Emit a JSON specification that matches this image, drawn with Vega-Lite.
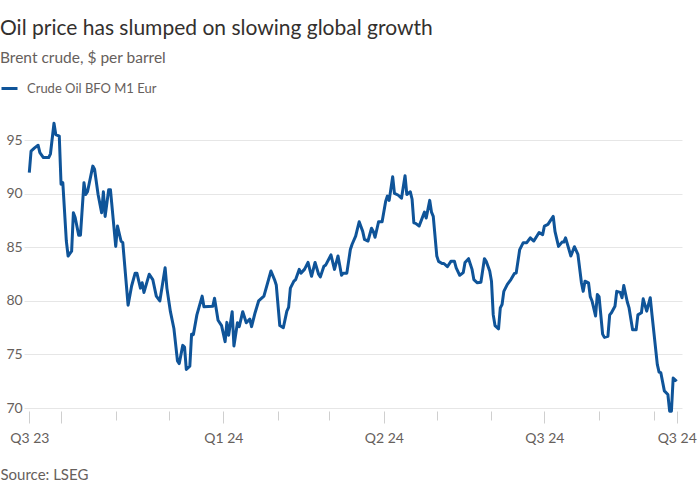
{
  "$schema": "https://vega.github.io/schema/vega-lite/v6.json",
  "autosize": "none",
  "width": 658,
  "height": 289,
  "padding": {"left": 24, "top": 119, "right": 18, "bottom": 92},
  "background": "white",
  "title": {
    "text": "Oil price has slumped on slowing global growth",
    "subtitle": "Brent crude, $ per barrel",
    "anchor": "start",
    "frame": "group",
    "dx": -24,
    "offset": 13,
    "font": "Lato",
    "fontSize": 21,
    "fontWeight": "normal",
    "color": "#33302e",
    "subtitleFont": "Lato",
    "subtitleFontSize": 15.5,
    "subtitleColor": "#66605c",
    "subtitlePadding": 12
  },
  "config": {
    "view": {"stroke": null},
    "font": "Lato"
  },
  "data": {
    "values": [
      {"date": "2023-09-13", "price": 92.0},
      {"date": "2023-09-14", "price": 94.0},
      {"date": "2023-09-16", "price": 94.3},
      {"date": "2023-09-18", "price": 94.55},
      {"date": "2023-09-19", "price": 93.85},
      {"date": "2023-09-21", "price": 93.4},
      {"date": "2023-09-24", "price": 93.4},
      {"date": "2023-09-25", "price": 93.75},
      {"date": "2023-09-27", "price": 96.6},
      {"date": "2023-09-28", "price": 95.55},
      {"date": "2023-09-30", "price": 95.4},
      {"date": "2023-10-01", "price": 90.9},
      {"date": "2023-10-02", "price": 91.05},
      {"date": "2023-10-04", "price": 85.6},
      {"date": "2023-10-05", "price": 84.2},
      {"date": "2023-10-07", "price": 84.65},
      {"date": "2023-10-08", "price": 88.25},
      {"date": "2023-10-09", "price": 87.8},
      {"date": "2023-10-11", "price": 86.15},
      {"date": "2023-10-12", "price": 86.15},
      {"date": "2023-10-14", "price": 91.05},
      {"date": "2023-10-15", "price": 89.95},
      {"date": "2023-10-16", "price": 90.2},
      {"date": "2023-10-19", "price": 92.6},
      {"date": "2023-10-20", "price": 92.3},
      {"date": "2023-10-22", "price": 89.95},
      {"date": "2023-10-24", "price": 88.25},
      {"date": "2023-10-25", "price": 90.2},
      {"date": "2023-10-26", "price": 87.9},
      {"date": "2023-10-28", "price": 90.4},
      {"date": "2023-10-29", "price": 90.4},
      {"date": "2023-11-01", "price": 85.1},
      {"date": "2023-11-02", "price": 87.0},
      {"date": "2023-11-04", "price": 85.6},
      {"date": "2023-11-05", "price": 85.45},
      {"date": "2023-11-08", "price": 79.6},
      {"date": "2023-11-10", "price": 81.4},
      {"date": "2023-11-12", "price": 82.6},
      {"date": "2023-11-13", "price": 82.6},
      {"date": "2023-11-15", "price": 81.2},
      {"date": "2023-11-16", "price": 81.7},
      {"date": "2023-11-17", "price": 80.8},
      {"date": "2023-11-20", "price": 82.5},
      {"date": "2023-11-22", "price": 82.0},
      {"date": "2023-11-24", "price": 80.45},
      {"date": "2023-11-26", "price": 80.0},
      {"date": "2023-11-29", "price": 83.1},
      {"date": "2023-11-30", "price": 81.2},
      {"date": "2023-12-02", "price": 79.0},
      {"date": "2023-12-04", "price": 77.4},
      {"date": "2023-12-06", "price": 74.4},
      {"date": "2023-12-07", "price": 74.15},
      {"date": "2023-12-09", "price": 75.85},
      {"date": "2023-12-10", "price": 75.7},
      {"date": "2023-12-11", "price": 73.6},
      {"date": "2023-12-13", "price": 73.9},
      {"date": "2023-12-14", "price": 76.9},
      {"date": "2023-12-15", "price": 76.85},
      {"date": "2023-12-17", "price": 78.7},
      {"date": "2023-12-20", "price": 80.45},
      {"date": "2023-12-21", "price": 79.45},
      {"date": "2023-12-26", "price": 79.5},
      {"date": "2023-12-27", "price": 80.25},
      {"date": "2023-12-29", "price": 78.2},
      {"date": "2023-12-31", "price": 77.7},
      {"date": "2024-01-02", "price": 76.2},
      {"date": "2024-01-03", "price": 78.0},
      {"date": "2024-01-04", "price": 76.8},
      {"date": "2024-01-06", "price": 79.0},
      {"date": "2024-01-07", "price": 75.8},
      {"date": "2024-01-09", "price": 77.96},
      {"date": "2024-01-10", "price": 77.6},
      {"date": "2024-01-12", "price": 79.0},
      {"date": "2024-01-14", "price": 77.96},
      {"date": "2024-01-16", "price": 78.3},
      {"date": "2024-01-17", "price": 77.6},
      {"date": "2024-01-19", "price": 78.9},
      {"date": "2024-01-21", "price": 80.0},
      {"date": "2024-01-24", "price": 80.45},
      {"date": "2024-01-28", "price": 82.8},
      {"date": "2024-01-30", "price": 82.0},
      {"date": "2024-01-31", "price": 81.5},
      {"date": "2024-02-02", "price": 77.7},
      {"date": "2024-02-04", "price": 77.5},
      {"date": "2024-02-06", "price": 79.05},
      {"date": "2024-02-07", "price": 79.4},
      {"date": "2024-02-08", "price": 81.2},
      {"date": "2024-02-10", "price": 81.85},
      {"date": "2024-02-11", "price": 82.0},
      {"date": "2024-02-13", "price": 82.95},
      {"date": "2024-02-14", "price": 82.6},
      {"date": "2024-02-16", "price": 82.95},
      {"date": "2024-02-18", "price": 83.6},
      {"date": "2024-02-20", "price": 82.3},
      {"date": "2024-02-22", "price": 83.6},
      {"date": "2024-02-24", "price": 82.5},
      {"date": "2024-02-25", "price": 82.25},
      {"date": "2024-02-27", "price": 83.25},
      {"date": "2024-02-28", "price": 83.35},
      {"date": "2024-03-02", "price": 84.3},
      {"date": "2024-03-04", "price": 82.95},
      {"date": "2024-03-06", "price": 84.2},
      {"date": "2024-03-08", "price": 82.4},
      {"date": "2024-03-09", "price": 82.6},
      {"date": "2024-03-11", "price": 82.6},
      {"date": "2024-03-13", "price": 84.8},
      {"date": "2024-03-14", "price": 85.3},
      {"date": "2024-03-16", "price": 86.05},
      {"date": "2024-03-18", "price": 87.4},
      {"date": "2024-03-20", "price": 86.5},
      {"date": "2024-03-21", "price": 85.75},
      {"date": "2024-03-23", "price": 85.6},
      {"date": "2024-03-25", "price": 86.8},
      {"date": "2024-03-26", "price": 86.5},
      {"date": "2024-03-27", "price": 85.95},
      {"date": "2024-03-29", "price": 87.4},
      {"date": "2024-03-31", "price": 87.4},
      {"date": "2024-04-02", "price": 89.3},
      {"date": "2024-04-03", "price": 89.8},
      {"date": "2024-04-04", "price": 89.4},
      {"date": "2024-04-06", "price": 91.6},
      {"date": "2024-04-07", "price": 90.05},
      {"date": "2024-04-09", "price": 89.9},
      {"date": "2024-04-11", "price": 89.6},
      {"date": "2024-04-13", "price": 91.7},
      {"date": "2024-04-14", "price": 89.95},
      {"date": "2024-04-16", "price": 90.2},
      {"date": "2024-04-17", "price": 89.5},
      {"date": "2024-04-18", "price": 87.3},
      {"date": "2024-04-19", "price": 87.25},
      {"date": "2024-04-21", "price": 87.0},
      {"date": "2024-04-24", "price": 88.3},
      {"date": "2024-04-25", "price": 87.75},
      {"date": "2024-04-27", "price": 89.4},
      {"date": "2024-04-28", "price": 88.3},
      {"date": "2024-04-29", "price": 87.9},
      {"date": "2024-05-01", "price": 84.2},
      {"date": "2024-05-02", "price": 83.7},
      {"date": "2024-05-04", "price": 83.5},
      {"date": "2024-05-05", "price": 83.5},
      {"date": "2024-05-07", "price": 83.2},
      {"date": "2024-05-09", "price": 83.7},
      {"date": "2024-05-11", "price": 83.7},
      {"date": "2024-05-12", "price": 83.1},
      {"date": "2024-05-14", "price": 82.4},
      {"date": "2024-05-16", "price": 82.65},
      {"date": "2024-05-17", "price": 83.6},
      {"date": "2024-05-19", "price": 83.95},
      {"date": "2024-05-21", "price": 82.95},
      {"date": "2024-05-22", "price": 82.0},
      {"date": "2024-05-24", "price": 81.7},
      {"date": "2024-05-26", "price": 81.75},
      {"date": "2024-05-28", "price": 83.95},
      {"date": "2024-05-29", "price": 83.7},
      {"date": "2024-05-31", "price": 82.8},
      {"date": "2024-06-01", "price": 81.85},
      {"date": "2024-06-02", "price": 78.7},
      {"date": "2024-06-03", "price": 77.7},
      {"date": "2024-06-05", "price": 77.4},
      {"date": "2024-06-06", "price": 79.35},
      {"date": "2024-06-07", "price": 79.67},
      {"date": "2024-06-08", "price": 80.9},
      {"date": "2024-06-10", "price": 81.55},
      {"date": "2024-06-12", "price": 82.0},
      {"date": "2024-06-14", "price": 82.57},
      {"date": "2024-06-15", "price": 82.6},
      {"date": "2024-06-17", "price": 84.8},
      {"date": "2024-06-19", "price": 85.45},
      {"date": "2024-06-21", "price": 85.45},
      {"date": "2024-06-23", "price": 85.9},
      {"date": "2024-06-25", "price": 85.6},
      {"date": "2024-06-28", "price": 86.4},
      {"date": "2024-06-30", "price": 86.2},
      {"date": "2024-07-01", "price": 87.0},
      {"date": "2024-07-03", "price": 87.15},
      {"date": "2024-07-06", "price": 87.9},
      {"date": "2024-07-07", "price": 86.5},
      {"date": "2024-07-09", "price": 85.1},
      {"date": "2024-07-11", "price": 85.5},
      {"date": "2024-07-12", "price": 85.5},
      {"date": "2024-07-13", "price": 85.9},
      {"date": "2024-07-16", "price": 84.2},
      {"date": "2024-07-18", "price": 85.07},
      {"date": "2024-07-20", "price": 84.35},
      {"date": "2024-07-22", "price": 81.7},
      {"date": "2024-07-23", "price": 80.9},
      {"date": "2024-07-24", "price": 81.85},
      {"date": "2024-07-26", "price": 81.7},
      {"date": "2024-07-27", "price": 80.4},
      {"date": "2024-07-28", "price": 80.0},
      {"date": "2024-07-30", "price": 78.6},
      {"date": "2024-07-31", "price": 80.6},
      {"date": "2024-08-01", "price": 80.4},
      {"date": "2024-08-03", "price": 76.9},
      {"date": "2024-08-04", "price": 76.6},
      {"date": "2024-08-06", "price": 76.7},
      {"date": "2024-08-07", "price": 78.7},
      {"date": "2024-08-08", "price": 78.9},
      {"date": "2024-08-10", "price": 79.5},
      {"date": "2024-08-11", "price": 80.9},
      {"date": "2024-08-13", "price": 80.8},
      {"date": "2024-08-14", "price": 80.3},
      {"date": "2024-08-15", "price": 81.45},
      {"date": "2024-08-17", "price": 79.9},
      {"date": "2024-08-18", "price": 79.35},
      {"date": "2024-08-20", "price": 77.3},
      {"date": "2024-08-22", "price": 77.3},
      {"date": "2024-08-23", "price": 78.7},
      {"date": "2024-08-25", "price": 78.9},
      {"date": "2024-08-26", "price": 80.2},
      {"date": "2024-08-28", "price": 79.05},
      {"date": "2024-08-30", "price": 80.3},
      {"date": "2024-08-31", "price": 78.7},
      {"date": "2024-09-03", "price": 74.07},
      {"date": "2024-09-04", "price": 73.35},
      {"date": "2024-09-05", "price": 73.3},
      {"date": "2024-09-07", "price": 71.6},
      {"date": "2024-09-09", "price": 71.26},
      {"date": "2024-09-10", "price": 69.7},
      {"date": "2024-09-11", "price": 69.7},
      {"date": "2024-09-12", "price": 72.8},
      {"date": "2024-09-14", "price": 72.5}
    ]
  },
  "mark": {"type": "line", "strokeWidth": 3, "strokeJoin": "round", "strokeCap": "butt"},
  "encoding": {
    "x": {
      "field": "date",
      "type": "temporal",
      "scale": {"domain": [{"year": 2023, "month": 9, "date": 10}, {"year": 2024, "month": 9, "date": 17}]},
      "axis": {
        "title": "Source: LSEG",
        "titleFont": "Lato",
        "titleFontSize": 15,
        "titleFontWeight": "normal",
        "titleColor": "#66605c",
        "titleAnchor": "start",
        "titleAlign": "left",
        "titleBaseline": "alphabetic",
        "titleX": -24,
        "titleY": 68,
        "values": [
          {"year": 2023, "month": 9, "date": 13},
          {"year": 2023, "month": 10, "date": 1},
          {"year": 2023, "month": 11, "date": 1},
          {"year": 2023, "month": 12, "date": 1},
          {"year": 2024, "month": 1, "date": 1},
          {"year": 2024, "month": 2, "date": 1},
          {"year": 2024, "month": 3, "date": 1},
          {"year": 2024, "month": 4, "date": 1},
          {"year": 2024, "month": 5, "date": 1},
          {"year": 2024, "month": 6, "date": 1},
          {"year": 2024, "month": 7, "date": 1},
          {"year": 2024, "month": 8, "date": 1},
          {"year": 2024, "month": 9, "date": 1},
          {"year": 2024, "month": 9, "date": 14}
        ],
        "labelExpr": "date(datum.value) >= 13 || (date(datum.value) == 1 && (month(datum.value) == 0 || month(datum.value) == 3 || month(datum.value) == 6)) ? 'Q' + quarter(datum.value) + ' ' + timeFormat(datum.value, '%y') : ''",
        "labelFont": "Lato",
        "labelFontSize": 14,
        "labelColor": "#66605c",
        "labelPadding": 8,
        "labelFlush": false,
        "labelOverlap": false,
        "domain": false,
        "grid": false,
        "offset": 3,
        "tickColor": "#cfcfcf",
        "tickWidth": 1,
        "tickSize": {"condition": {"test": "date(datum.value) >= 13 || (date(datum.value) == 1 && month(datum.value) % 3 == 0)", "value": 12}, "value": 9}
      }
    },
    "y": {
      "field": "price",
      "type": "quantitative",
      "scale": {"domain": [70, 97], "nice": false, "zero": false},
      "axis": {
        "title": null,
        "values": [70, 75, 80, 85, 90, 95],
        "labelFont": "Lato",
        "labelFontSize": 14,
        "labelColor": "#66605c",
        "labelAlign": "left",
        "labelBaseline": "middle",
        "labelPadding": 18,
        "ticks": false,
        "tickSize": 0,
        "domain": false,
        "grid": true,
        "gridColor": "#e6e6e6",
        "gridWidth": 1
      }
    },
    "color": {
      "datum": "Crude Oil BFO M1 Eur",
      "type": "nominal",
      "scale": {"domain": ["Crude Oil BFO M1 Eur"], "range": ["#0f5499"]},
      "legend": {
        "title": null,
        "orient": "none",
        "legendX": -24,
        "legendY": -40,
        "symbolType": "stroke",
        "symbolSize": 256,
        "symbolStrokeWidth": 3,
        "labelFont": "Lato",
        "labelFontSize": 13,
        "labelColor": "#66605c",
        "labelOffset": 8,
        "padding": 0
      }
    }
  }
}
